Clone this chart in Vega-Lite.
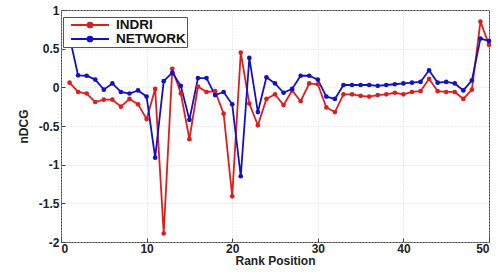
{
  "$schema": "https://vega.github.io/schema/vega-lite/v6.json",
  "autosize": "none",
  "width": 428,
  "height": 232,
  "padding": {"left": 61, "top": 10, "right": 11, "bottom": 36},
  "background": "white",
  "config": {
    "view": {"stroke": "#444", "strokeWidth": 1},
    "font": "Liberation Sans",
    "axis": {
      "labelFont": "Liberation Sans",
      "labelFontWeight": "bold",
      "labelFontSize": 12,
      "labelColor": "#222",
      "titleFont": "Liberation Sans",
      "titleFontWeight": "bold",
      "titleFontSize": 12,
      "titleColor": "#222",
      "grid": true,
      "gridColor": "#cccccc",
      "gridDash": [1, 2],
      "gridWidth": 0.8,
      "domain": false,
      "tickColor": "#444",
      "tickSize": -4
    }
  },
  "data": {
    "values": [
      {"rank": 1, "series": "INDRI", "ndcg": 0.06},
      {"rank": 2, "series": "INDRI", "ndcg": -0.06},
      {"rank": 3, "series": "INDRI", "ndcg": -0.08},
      {"rank": 4, "series": "INDRI", "ndcg": -0.19},
      {"rank": 5, "series": "INDRI", "ndcg": -0.16},
      {"rank": 6, "series": "INDRI", "ndcg": -0.16},
      {"rank": 7, "series": "INDRI", "ndcg": -0.25},
      {"rank": 8, "series": "INDRI", "ndcg": -0.15},
      {"rank": 9, "series": "INDRI", "ndcg": -0.22},
      {"rank": 10, "series": "INDRI", "ndcg": -0.41},
      {"rank": 11, "series": "INDRI", "ndcg": -0.02},
      {"rank": 12, "series": "INDRI", "ndcg": -1.89},
      {"rank": 13, "series": "INDRI", "ndcg": 0.24},
      {"rank": 14, "series": "INDRI", "ndcg": -0.08},
      {"rank": 15, "series": "INDRI", "ndcg": -0.67},
      {"rank": 16, "series": "INDRI", "ndcg": 0.01},
      {"rank": 17, "series": "INDRI", "ndcg": -0.06},
      {"rank": 18, "series": "INDRI", "ndcg": -0.05},
      {"rank": 19, "series": "INDRI", "ndcg": -0.34},
      {"rank": 20, "series": "INDRI", "ndcg": -1.41},
      {"rank": 21, "series": "INDRI", "ndcg": 0.45},
      {"rank": 22, "series": "INDRI", "ndcg": -0.21},
      {"rank": 23, "series": "INDRI", "ndcg": -0.49},
      {"rank": 24, "series": "INDRI", "ndcg": -0.15},
      {"rank": 25, "series": "INDRI", "ndcg": -0.09},
      {"rank": 26, "series": "INDRI", "ndcg": -0.23},
      {"rank": 27, "series": "INDRI", "ndcg": -0.04},
      {"rank": 28, "series": "INDRI", "ndcg": -0.18},
      {"rank": 29, "series": "INDRI", "ndcg": 0.05},
      {"rank": 30, "series": "INDRI", "ndcg": 0.04},
      {"rank": 31, "series": "INDRI", "ndcg": -0.26},
      {"rank": 32, "series": "INDRI", "ndcg": -0.32},
      {"rank": 33, "series": "INDRI", "ndcg": -0.09},
      {"rank": 34, "series": "INDRI", "ndcg": -0.09},
      {"rank": 35, "series": "INDRI", "ndcg": -0.11},
      {"rank": 36, "series": "INDRI", "ndcg": -0.12},
      {"rank": 37, "series": "INDRI", "ndcg": -0.10},
      {"rank": 38, "series": "INDRI", "ndcg": -0.09},
      {"rank": 39, "series": "INDRI", "ndcg": -0.07},
      {"rank": 40, "series": "INDRI", "ndcg": -0.09},
      {"rank": 41, "series": "INDRI", "ndcg": -0.06},
      {"rank": 42, "series": "INDRI", "ndcg": -0.05},
      {"rank": 43, "series": "INDRI", "ndcg": 0.11},
      {"rank": 44, "series": "INDRI", "ndcg": -0.05},
      {"rank": 45, "series": "INDRI", "ndcg": -0.06},
      {"rank": 46, "series": "INDRI", "ndcg": -0.06},
      {"rank": 47, "series": "INDRI", "ndcg": -0.15},
      {"rank": 48, "series": "INDRI", "ndcg": -0.03},
      {"rank": 49, "series": "INDRI", "ndcg": 0.85},
      {"rank": 50, "series": "INDRI", "ndcg": 0.55},
      {"rank": 1, "series": "NETWORK", "ndcg": 0.65},
      {"rank": 2, "series": "NETWORK", "ndcg": 0.155},
      {"rank": 3, "series": "NETWORK", "ndcg": 0.15},
      {"rank": 4, "series": "NETWORK", "ndcg": 0.10},
      {"rank": 5, "series": "NETWORK", "ndcg": -0.03},
      {"rank": 6, "series": "NETWORK", "ndcg": 0.05},
      {"rank": 7, "series": "NETWORK", "ndcg": -0.06},
      {"rank": 8, "series": "NETWORK", "ndcg": -0.08},
      {"rank": 9, "series": "NETWORK", "ndcg": -0.04},
      {"rank": 10, "series": "NETWORK", "ndcg": -0.12},
      {"rank": 11, "series": "NETWORK", "ndcg": -0.91},
      {"rank": 12, "series": "NETWORK", "ndcg": 0.08},
      {"rank": 13, "series": "NETWORK", "ndcg": 0.19},
      {"rank": 14, "series": "NETWORK", "ndcg": 0.02},
      {"rank": 15, "series": "NETWORK", "ndcg": -0.42},
      {"rank": 16, "series": "NETWORK", "ndcg": 0.12},
      {"rank": 17, "series": "NETWORK", "ndcg": 0.12},
      {"rank": 18, "series": "NETWORK", "ndcg": -0.10},
      {"rank": 19, "series": "NETWORK", "ndcg": -0.06},
      {"rank": 20, "series": "NETWORK", "ndcg": -0.22},
      {"rank": 21, "series": "NETWORK", "ndcg": -1.15},
      {"rank": 22, "series": "NETWORK", "ndcg": 0.38},
      {"rank": 23, "series": "NETWORK", "ndcg": -0.32},
      {"rank": 24, "series": "NETWORK", "ndcg": 0.13},
      {"rank": 25, "series": "NETWORK", "ndcg": 0.05},
      {"rank": 26, "series": "NETWORK", "ndcg": -0.07},
      {"rank": 27, "series": "NETWORK", "ndcg": -0.02},
      {"rank": 28, "series": "NETWORK", "ndcg": 0.15},
      {"rank": 29, "series": "NETWORK", "ndcg": 0.15},
      {"rank": 30, "series": "NETWORK", "ndcg": 0.10},
      {"rank": 31, "series": "NETWORK", "ndcg": -0.12},
      {"rank": 32, "series": "NETWORK", "ndcg": -0.15},
      {"rank": 33, "series": "NETWORK", "ndcg": 0.03},
      {"rank": 34, "series": "NETWORK", "ndcg": 0.03},
      {"rank": 35, "series": "NETWORK", "ndcg": 0.03},
      {"rank": 36, "series": "NETWORK", "ndcg": 0.03},
      {"rank": 37, "series": "NETWORK", "ndcg": 0.02},
      {"rank": 38, "series": "NETWORK", "ndcg": 0.03},
      {"rank": 39, "series": "NETWORK", "ndcg": 0.04},
      {"rank": 40, "series": "NETWORK", "ndcg": 0.05},
      {"rank": 41, "series": "NETWORK", "ndcg": 0.06},
      {"rank": 42, "series": "NETWORK", "ndcg": 0.07},
      {"rank": 43, "series": "NETWORK", "ndcg": 0.22},
      {"rank": 44, "series": "NETWORK", "ndcg": 0.06},
      {"rank": 45, "series": "NETWORK", "ndcg": 0.07},
      {"rank": 46, "series": "NETWORK", "ndcg": 0.05},
      {"rank": 47, "series": "NETWORK", "ndcg": -0.04},
      {"rank": 48, "series": "NETWORK", "ndcg": 0.09},
      {"rank": 49, "series": "NETWORK", "ndcg": 0.63},
      {"rank": 50, "series": "NETWORK", "ndcg": 0.60}
    ]
  },
  "encoding": {
    "x": {
      "field": "rank",
      "type": "quantitative",
      "title": "Rank Position",
      "scale": {"domain": [0, 50], "nice": false, "zero": false},
      "axis": {"values": [0, 10, 20, 30, 40, 50], "titlePadding": 1, "labelPadding": 5}
    },
    "y": {
      "field": "ndcg",
      "type": "quantitative",
      "title": "nDCG",
      "scale": {"domain": [-2, 1], "nice": false, "zero": false},
      "axis": {"values": [-2, -1.5, -1, -0.5, 0, 0.5, 1], "labelExpr": "datum.value + ''", "titlePadding": 8, "labelPadding": 6}
    },
    "color": {
      "field": "series",
      "type": "nominal",
      "scale": {"domain": ["INDRI", "NETWORK"], "range": ["#dc1e1e", "#1212c4"]},
      "legend": {
        "title": null,
        "orient": "none",
        "legendX": 2,
        "legendY": 7,
        "direction": "vertical",
        "strokeColor": "#555",
        "fillColor": "white",
        "padding": 1,
        "rowPadding": 0,
        "clipHeight": 14,
        "symbolOffset": 6,
        "symbolType": "M-1,0H1M0.13,0A0.13,0.13 0 1,1 -0.13,0A0.13,0.13 0 1,1 0.13,0Z",
        "symbolSize": 1444,
        "symbolStrokeWidth": 1.8,
        "labelFont": "Liberation Sans",
        "labelFontWeight": "bold",
        "labelFontSize": 13.5,
        "labelColor": "#111",
        "labelOffset": 6
      }
    }
  },
  "layer": [
    {"mark": {"type": "line", "strokeWidth": 1.8}, "encoding": {"detail": {"field": "series"}}},
    {"mark": {"type": "point", "filled": true, "size": 22, "opacity": 1}}
  ]
}
